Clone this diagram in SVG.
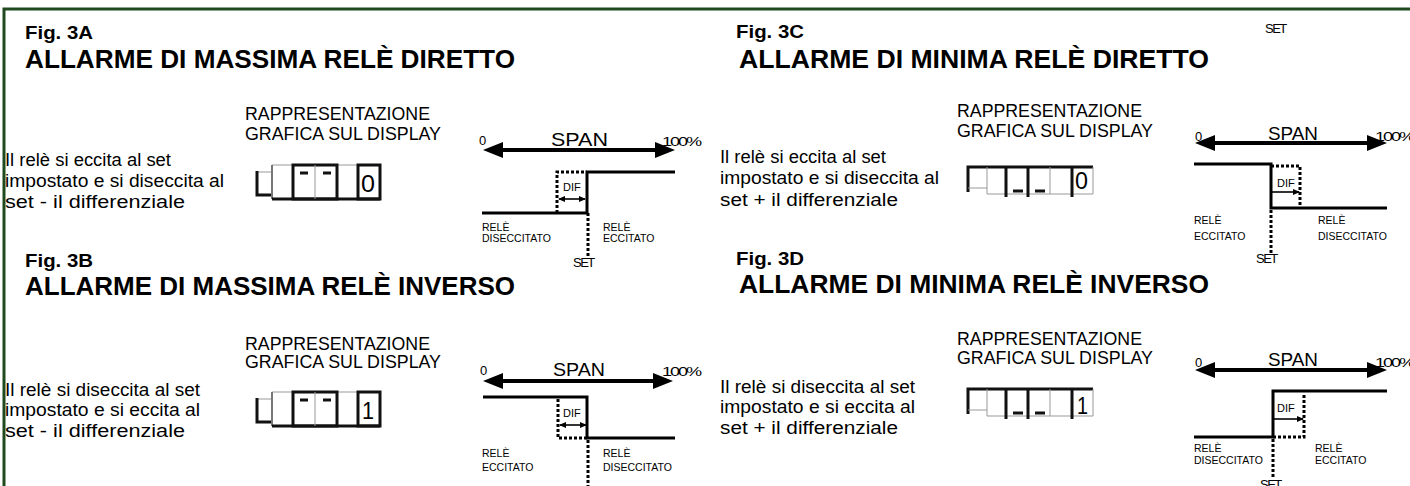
<svg xmlns="http://www.w3.org/2000/svg" width="1410" height="486" viewBox="0 0 1410 486">
<style>
text{font-family:"Liberation Sans",Arial,sans-serif;fill:#000}
.fig{font-size:19px;font-weight:bold}
.ttl{font-size:25px;font-weight:bold}
.txt{font-size:17.5px}
.rap{font-size:18px}
.lbl{font-size:10.5px}
.set{font-size:13px;letter-spacing:-1.5px}
.dif{font-size:11px}
.span{font-size:19px}
.pct{font-size:13px;letter-spacing:-1.5px}
.dig{font-size:24px}
.step{fill:none;stroke:#000;stroke-width:3}
.dot{fill:none;stroke:#000;stroke-width:3;stroke-dasharray:3 2}
.spanl{stroke:#000;stroke-width:4}
.difl{stroke:#000;stroke-width:1.6}
.thk{fill:none;stroke:#111;stroke-width:3}
.thn{fill:none;stroke:#999;stroke-width:1}
.gry{fill:none;stroke:#777;stroke-width:2}
</style>
<defs>
<marker id="big" viewBox="0 0 20 16" refX="10" refY="8" markerWidth="20" markerHeight="16" markerUnits="userSpaceOnUse" orient="auto-start-reverse"><path d="M0,0 L20,8 L0,16 Z" fill="#000"/></marker>
<marker id="sml" viewBox="0 0 7 6" refX="6" refY="3" markerWidth="7" markerHeight="6" markerUnits="userSpaceOnUse" orient="auto-start-reverse"><path d="M0,0 L7,3 L0,6 Z" fill="#000"/></marker>
<g id="dispUp">
<path class="thn" d="M0,7 H15"/>
<path class="thk" d="M0,6 V30 H15"/>
<path class="thn" d="M15,0 H36 M80,0 H101"/>
<path class="gry" d="M15,0 V34"/>
<path class="thk" d="M15,34 H123"/>
<rect class="thk" x="36" y="0" width="44" height="34"/>
<path class="thn" d="M58,0 V34"/>
<rect class="thk" x="101" y="0" width="22" height="34"/>
<path class="thk" d="M43,8 H51 M66,8 H74"/>
</g>
<g id="dispDn">
<path class="thk" d="M0,27 V2 H19"/>
<path class="thn" d="M0,23 H19"/>
<path class="thk" d="M19,2 H125"/>
<path class="thn" d="M19,2 V29 M82,2 V29 M125,2 V29 M19,29 H125"/>
<path class="thk" d="M38,2 V32 M60,2 V32 M104,2 V32"/>
<path class="thk" d="M45,26 H55 M67,26 H77"/>
</g>
</defs>

<path d="M4,486 V9 H1410" fill="none" stroke="#1e4a1e" stroke-width="3"/>

<text x="1265" y="33" class="set">SET</text>

<g id="fig3A">
<text x="25" y="39" class="fig" textLength="68" lengthAdjust="spacingAndGlyphs">Fig. 3A</text>
<text x="25" y="68" class="ttl" textLength="490" lengthAdjust="spacingAndGlyphs">ALLARME DI MASSIMA RELÈ DIRETTO</text>
<text x="245" y="120" class="rap" textLength="185" lengthAdjust="spacingAndGlyphs">RAPPRESENTAZIONE</text>
<text x="245" y="140" class="rap" textLength="196" lengthAdjust="spacingAndGlyphs">GRAFICA SUL DISPLAY</text>
<text x="5" y="166" class="txt" textLength="166" lengthAdjust="spacingAndGlyphs">Il relè si eccita al set</text>
<text x="5" y="187" class="txt" textLength="219" lengthAdjust="spacingAndGlyphs">impostato e si diseccita al</text>
<text x="5" y="208" class="txt" textLength="180" lengthAdjust="spacingAndGlyphs">set - il differenziale</text>
<use href="#dispUp" x="257" y="165"/>
<text x="361" y="192" class="dig" textLength="14" lengthAdjust="spacingAndGlyphs">0</text>
<text x="479" y="145" class="pct">0</text>
<text x="551" y="146" class="span" textLength="57" lengthAdjust="spacingAndGlyphs">SPAN</text>
<text x="662" y="146" class="pct" textLength="38" lengthAdjust="spacingAndGlyphs">100%</text>
<text x="563" y="191" class="dif">DIF</text>
<text x="482" y="231" class="lbl">RELÈ</text>
<text x="482" y="242" class="lbl">DISECCITATO</text>
<text x="603" y="231" class="lbl">RELÈ</text>
<text x="603" y="242" class="lbl">ECCITATO</text>
<text x="573" y="267" class="set">SET</text>
</g>

<g id="fig3B">
<text x="25" y="267" class="fig" textLength="68" lengthAdjust="spacingAndGlyphs">Fig. 3B</text>
<text x="25" y="295" class="ttl" textLength="490" lengthAdjust="spacingAndGlyphs">ALLARME DI MASSIMA RELÈ INVERSO</text>
<text x="245" y="350" class="rap" textLength="185" lengthAdjust="spacingAndGlyphs">RAPPRESENTAZIONE</text>
<text x="245" y="368" class="rap" textLength="196" lengthAdjust="spacingAndGlyphs">GRAFICA SUL DISPLAY</text>
<text x="5" y="396" class="txt" textLength="195" lengthAdjust="spacingAndGlyphs">Il relè si diseccita al set</text>
<text x="5" y="416" class="txt" textLength="195" lengthAdjust="spacingAndGlyphs">impostato e si eccita al</text>
<text x="5" y="437" class="txt" textLength="180" lengthAdjust="spacingAndGlyphs">set - il differenziale</text>
<use href="#dispUp" x="257" y="392"/>
<text x="362" y="419" class="dig" textLength="12" lengthAdjust="spacingAndGlyphs">1</text>
<text x="480" y="375" class="pct">0</text>
<text x="553" y="376" class="span" textLength="52" lengthAdjust="spacingAndGlyphs">SPAN</text>
<text x="662" y="376" class="pct" textLength="38" lengthAdjust="spacingAndGlyphs">100%</text>
<text x="563" y="417" class="dif">DIF</text>
<text x="482" y="457" class="lbl">RELÈ</text>
<text x="482" y="471" class="lbl">ECCITATO</text>
<text x="603" y="457" class="lbl">RELÈ</text>
<text x="603" y="471" class="lbl">DISECCITATO</text>
</g>

<g id="fig3C">
<text x="736" y="38" class="fig" textLength="68" lengthAdjust="spacingAndGlyphs">Fig. 3C</text>
<text x="739" y="68" class="ttl" textLength="470" lengthAdjust="spacingAndGlyphs">ALLARME DI MINIMA RELÈ DIRETTO</text>
<text x="957" y="117" class="rap" textLength="185" lengthAdjust="spacingAndGlyphs">RAPPRESENTAZIONE</text>
<text x="957" y="137" class="rap" textLength="196" lengthAdjust="spacingAndGlyphs">GRAFICA SUL DISPLAY</text>
<text x="720" y="163" class="txt" textLength="166" lengthAdjust="spacingAndGlyphs">Il relè si eccita al set</text>
<text x="720" y="184" class="txt" textLength="219" lengthAdjust="spacingAndGlyphs">impostato e si diseccita al</text>
<text x="720" y="206" class="txt" textLength="178" lengthAdjust="spacingAndGlyphs">set + il differenziale</text>
<use href="#dispDn" x="968" y="165"/>
<text x="1075" y="189" class="dig" font-size="22" textLength="13" lengthAdjust="spacingAndGlyphs">0</text>
<text x="1195" y="141" class="pct">0</text>
<text x="1268" y="140" class="span" textLength="50" lengthAdjust="spacingAndGlyphs">SPAN</text>
<text x="1375" y="141" class="pct" textLength="38" lengthAdjust="spacingAndGlyphs">100%</text>
<text x="1277" y="187" class="dif">DIF</text>
<text x="1194" y="224" class="lbl">RELÈ</text>
<text x="1194" y="240" class="lbl">ECCITATO</text>
<text x="1318" y="224" class="lbl">RELÈ</text>
<text x="1318" y="240" class="lbl">DISECCITATO</text>
<text x="1256" y="263" class="set">SET</text>
</g>

<g id="fig3D">
<text x="736" y="265" class="fig" textLength="68" lengthAdjust="spacingAndGlyphs">Fig. 3D</text>
<text x="739" y="293" class="ttl" textLength="470" lengthAdjust="spacingAndGlyphs">ALLARME DI MINIMA RELÈ INVERSO</text>
<text x="957" y="345" class="rap" textLength="185" lengthAdjust="spacingAndGlyphs">RAPPRESENTAZIONE</text>
<text x="957" y="364" class="rap" textLength="196" lengthAdjust="spacingAndGlyphs">GRAFICA SUL DISPLAY</text>
<text x="720" y="393" class="txt" textLength="195" lengthAdjust="spacingAndGlyphs">Il relè si diseccita al set</text>
<text x="720" y="413" class="txt" textLength="195" lengthAdjust="spacingAndGlyphs">impostato e si eccita al</text>
<text x="720" y="434" class="txt" textLength="178" lengthAdjust="spacingAndGlyphs">set + il differenziale</text>
<use href="#dispDn" x="968" y="387"/>
<text x="1077" y="414" class="dig" font-size="22" textLength="11" lengthAdjust="spacingAndGlyphs">1</text>
<text x="1195" y="367" class="pct">0</text>
<text x="1268" y="366" class="span" textLength="50" lengthAdjust="spacingAndGlyphs">SPAN</text>
<text x="1375" y="367" class="pct" textLength="38" lengthAdjust="spacingAndGlyphs">100%</text>
<text x="1277" y="412" class="dif">DIF</text>
<text x="1194" y="452" class="lbl">RELÈ</text>
<text x="1194" y="464" class="lbl">DISECCITATO</text>
<text x="1315" y="452" class="lbl">RELÈ</text>
<text x="1315" y="464" class="lbl">ECCITATO</text>
<text x="1260" y="489" class="set">SET</text>
</g>

<g id="connectors">
<line class="spanl" x1="493" y1="150" x2="665" y2="150" marker-start="url(#big)" marker-end="url(#big)"/>
<line class="spanl" x1="493" y1="381" x2="663" y2="381" marker-start="url(#big)" marker-end="url(#big)"/>
<line class="spanl" x1="1205" y1="143" x2="1377" y2="143" marker-start="url(#big)" marker-end="url(#big)"/>
<line class="spanl" x1="1205" y1="370" x2="1377" y2="370" marker-start="url(#big)" marker-end="url(#big)"/>

<path class="step" d="M482,213 H587 V172 H675"/>
<path class="dot" d="M557,213 V172 H587"/>
<path class="dot" d="M588,213 V258"/>
<line class="difl" x1="559" y1="199" x2="585" y2="199" marker-start="url(#sml)" marker-end="url(#sml)"/>

<path class="step" d="M483,397 H587 V438 H675"/>
<path class="dot" d="M558,399 V438 H587"/>
<path class="dot" d="M588,440 V486"/>
<line class="difl" x1="560" y1="425" x2="586" y2="425" marker-start="url(#sml)" marker-end="url(#sml)"/>

<path class="step" d="M1194,164 H1271 V208 H1387"/>
<path class="dot" d="M1271,166 H1300 V208"/>
<path class="dot" d="M1271,210 V253"/>
<line class="difl" x1="1272" y1="192" x2="1299" y2="192" marker-end="url(#sml)"/>

<path class="step" d="M1194,437 H1273 V391 H1387"/>
<path class="dot" d="M1273,437 H1304 V394"/>
<path class="dot" d="M1273,439 V478"/>
<line class="difl" x1="1274" y1="419" x2="1303" y2="419" marker-end="url(#sml)"/>
</g>
</svg>
